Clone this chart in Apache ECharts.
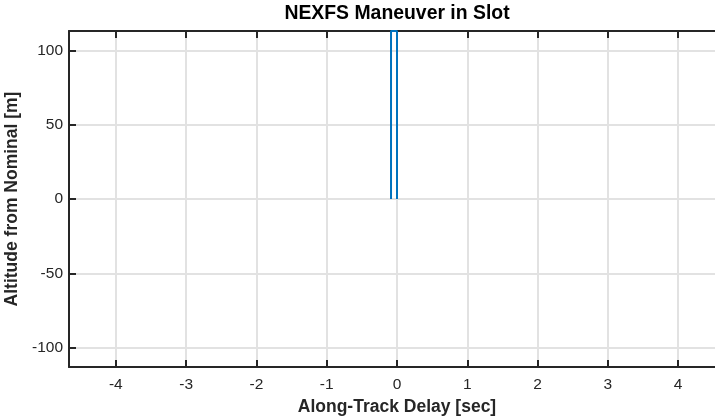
<!DOCTYPE html>
<html>
<head>
<meta charset="utf-8">
<style>
  html, body { margin: 0; padding: 0; background: #fff; }
  #chart { width: 715px; height: 417px; }
</style>
<script src="https://cdn.jsdelivr.net/npm/echarts@6/dist/echarts.min.js"></script>
</head>
<body>
<div id="chart"></div>
<script>
// Maneuver trace: along-track delay (sec) vs altitude offset (m)
const delaySec = [-0.085, -0.085, 0, 0];
const altitudeM = [0, 113, 113, 0];

// Axis ranges and tick labels
const xRange = [-4.666, 4.666];
const yRange = [-113, 113];
const xTicks = [-4, -3, -2, -1, 0, 1, 2, 3, 4];
const yTicks = [-100, -50, 0, 50, 100];

const titleText = 'NEXFS Maneuver in Slot';
const xLabel = 'Along-Track Delay [sec]';
const yLabel = 'Altitude from Nominal [m]';

const FONT = '"Liberation Sans", Arial, Helvetica, sans-serif';
const AXIS_COLOR = '#262626';
const GRID_COLOR = '#e2e2e2';

const chart = echarts.init(document.getElementById('chart'), null, { renderer: 'canvas' });

const axisLineStyle = { show: true, onZero: false, lineStyle: { color: AXIS_COLOR, width: 2 } };
const tickStyle = { show: true, inside: true, length: 7, lineStyle: { color: AXIS_COLOR, width: 2 } };

chart.setOption({
  animation: false,
  backgroundColor: '#ffffff',
  title: {
    text: titleText,
    left: 397,
    textAlign: 'center',
    top: 4,
    padding: 0,
    textStyle: { fontFamily: FONT, fontSize: 19.4, fontWeight: 'bold', color: '#000' }
  },
  grid: {
    left: 69,
    top: 31,
    width: 656,
    height: 336,
    outerBoundsMode: 'none',
    containLabel: false
  },
  xAxis: [
    {
      type: 'value',
      position: 'bottom',
      min: xRange[0],
      max: xRange[1],
      name: xLabel,
      nameLocation: 'middle',
      nameGap: 27,
      nameTextStyle: { fontFamily: FONT, fontSize: 17.5, fontWeight: 'bold', color: AXIS_COLOR },
      axisLine: axisLineStyle,
      axisTick: Object.assign({ customValues: xTicks }, tickStyle),
      axisLabel: {
        customValues: xTicks,
        margin: 10,
        fontFamily: FONT,
        fontSize: 15.5,
        color: AXIS_COLOR
      },
      splitLine: { show: true, lineStyle: { color: GRID_COLOR, width: 2 } }
    },
    {
      type: 'value',
      position: 'top',
      min: xRange[0],
      max: xRange[1],
      axisLine: axisLineStyle,
      axisTick: Object.assign({ customValues: xTicks }, tickStyle),
      axisLabel: { show: false },
      splitLine: { show: false }
    }
  ],
  yAxis: [
    {
      type: 'value',
      position: 'left',
      min: yRange[0],
      max: yRange[1],
      name: yLabel,
      nameLocation: 'middle',
      nameGap: 42,
      nameTextStyle: { fontFamily: FONT, fontSize: 17.5, fontWeight: 'bold', color: AXIS_COLOR },
      axisLine: axisLineStyle,
      axisTick: Object.assign({ customValues: yTicks }, tickStyle),
      axisLabel: {
        customValues: yTicks,
        margin: 6,
        fontFamily: FONT,
        fontSize: 15.5,
        color: AXIS_COLOR
      },
      splitLine: { show: true, lineStyle: { color: GRID_COLOR, width: 2 } }
    }
  ],
  series: [
    {
      type: 'line',
      xAxisIndex: 0,
      yAxisIndex: 0,
      data: delaySec.map((x, i) => [x, altitudeM[i]]),
      showSymbol: false,
      clip: false,
      lineStyle: { color: '#0072BD', width: 2 },
      z: 5
    }
  ]
});
</script>
</body>
</html>
